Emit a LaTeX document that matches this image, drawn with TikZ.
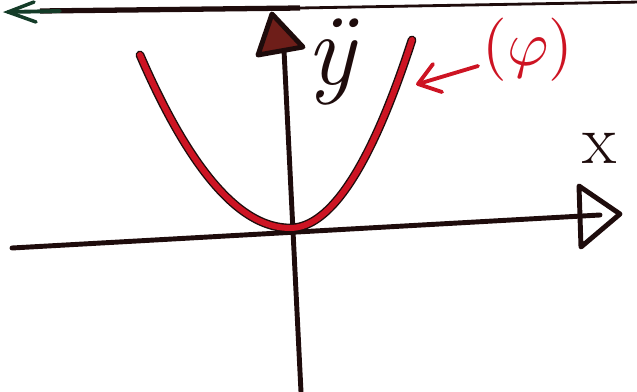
\documentclass[tikz,border=0pt]{standalone}
\usepackage{fontspec}
\begin{document}
\begin{tikzpicture}[x=0.02cm,y=-0.02cm,
  ink/.style={draw=inkc,line width=2.8pt,line cap=round,line join=round},
  redink/.style={draw=redc,line width=2.6pt,line cap=round,line join=round}]
\definecolor{inkc}{RGB}{30,12,12}
\definecolor{redc}{RGB}{205,20,35}
\definecolor{greenc}{RGB}{20,60,40}
\definecolor{brownc}{RGB}{110,30,25}
\useasboundingbox (0,0) rectangle (637,392);
% top line with arrow
\coordinate (t1) at (8,12);
\coordinate (t2) at (640,2);
\draw[draw=inkc,line width=1.6pt] (300,8) -- (t2);
\draw[draw=inkc,line width=3pt] (40,11) -- (300,8);
\draw[draw=greenc,line width=2.2pt,line cap=round] (t1) -- (60,11);
\draw[draw=greenc,line width=2pt,line cap=round] (34,2) -- (t1) -- (36,22);
% y axis
\coordinate (yb) at (301,392);
\coordinate (yt) at (284,50);
\draw[ink] (yb) -- (yt);
\draw[ink,fill=brownc] (258,55) -- (272,14) -- (303,47) -- cycle;
\node[text=inkc,inner sep=0pt] (ylab) at (331,62) {\fontsize{58}{58}\selectfont\itshape ÿ};
% x axis
\coordinate (xl) at (12,248);
\coordinate (xr) at (600,215);
\draw[ink] (xl) -- (xr);
\draw[ink] (579,186) -- (620,214) -- (581,247) -- cycle;
\node[text=inkc,inner sep=0pt] (xlab) at (600,148) {\fontsize{40}{40}\selectfont x};
% parabola
\draw[draw=inkc,line width=5pt,line cap=round]
  plot[domain=140:290,samples=40,smooth] (\x,{228-173*((290-\x)/150)^2})
  -- plot[domain=290:412,samples=40,smooth] (\x,{228-188*((\x-290)/122)^2});
\draw[draw=redc,line width=3.4pt,line cap=round]
  plot[domain=140:290,samples=40,smooth] (\x,{228-173*((290-\x)/150)^2})
  -- plot[domain=290:412,samples=40,smooth] (\x,{228-188*((\x-290)/122)^2});
% label arrow
\node[text=redc,inner sep=0pt,scale=3.6] (flab) at (528,50) {$(\varphi)$};
\coordinate (ae) at (418,84);
\draw[redink,line width=2.2pt] (478,66) -- (ae);
\draw[redink,line width=2.2pt] (433,64) -- (ae) -- (442,92);
\end{tikzpicture}
\end{document}
